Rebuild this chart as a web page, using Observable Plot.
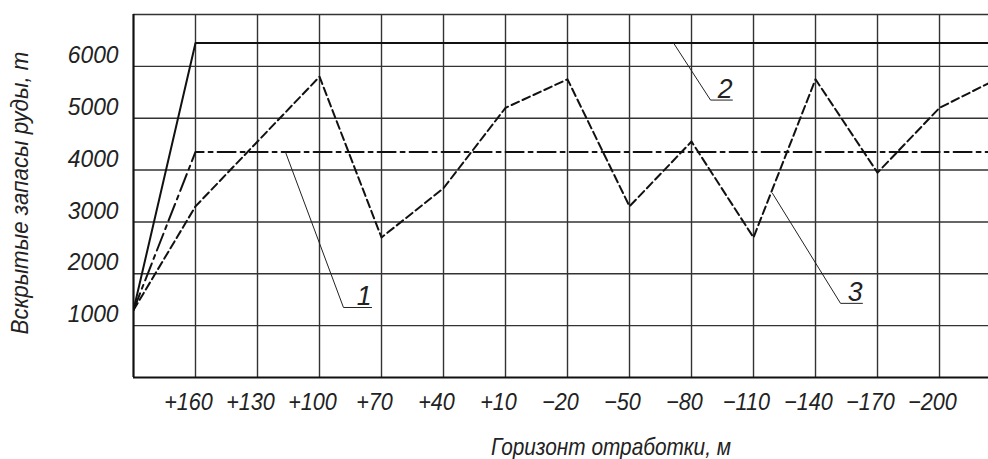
<!DOCTYPE html>
<html>
<head>
<meta charset="utf-8">
<script src="https://cdn.jsdelivr.net/npm/d3@7"></script>
<script src="https://cdn.jsdelivr.net/npm/@observablehq/plot@0.6"></script>
<style>
  html, body { margin: 0; padding: 0; background: #fff; }
  svg { display: block; }
  .gost, .gost text { font-family: "Liberation Sans", Arimo, sans-serif; font-style: italic; }
</style>
</head>
<body>
<div id="chart"></div>
<script>
// Horizon of mining (m) and opened ore reserves (t)
const horizonTicks = [160, 130, 100, 70, 40, 10, -20, -50, -80, -110, -140, -170, -200];
const valueTicks = [1000, 2000, 3000, 4000, 5000, 6000];
const gridValues = [1000, 2000, 3000, 4000, 5000, 6000, 7000];

const series1Horizon = [190, 160, -230];
const series1Value   = [1300, 4350, 4350];

const series2Horizon = [190, 160, -230];
const series2Value   = [1300, 6450, 6450];

const series3Horizon = [190, 160, 100, 70, 40, 10, -20, -50, -80, -110, -140, -170, -200, -230];
const series3Value   = [1300, 3300, 5800, 2700, 3650, 5200, 5750, 3300, 4550, 2700, 5750, 3950, 5200, 5800];

// leader lines for the curve numbers: anchor on curve, elbow, end of underline
const leaderName    = ["1", "2", "3"];
const leaderHorizon = [[116.5, 88.4, 74.8], [-71.3, -89.2, -99.8], [-119.2, -152.1, -162.7]];
const leaderValue   = [[4350, 1350, 1350], [6450, 5350, 5350], [3550, 1430, 1430]];

const yTitle = "Вскрытые запасы руды, т";
const xTitle = "Горизонт отработки, м";

const toRows = (hs, vs) => hs.map((h, i) => ({h, v: vs[i]}));
const s1 = toRows(series1Horizon, series1Value);
const s2 = toRows(series2Horizon, series2Value);
const s3 = toRows(series3Horizon, series3Value);
const leaders = leaderName.flatMap((n, k) => leaderHorizon[k].map((h, i) => ({n, h, v: leaderValue[k][i]})));
const leaderLabels = leaderName.map((n, k) => ({n, h: leaderHorizon[k][2], v: leaderValue[k][2]}));

const fmt = d => d > 0 ? "+" + d : "\u2212" + Math.abs(d);
const FONT = 24;

const chart = Plot.plot({
  width: 988,
  height: 459,
  marginLeft: 133,
  marginRight: 0,
  marginTop: 14,
  marginBottom: 82,
  style: {background: "#fff", overflow: "visible"},
  className: "gost",
  x: {domain: [190, -223.7], type: "linear"},
  y: {domain: [0, 7000]},
  marks: [
    Plot.gridX(horizonTicks, {stroke: "#333", strokeOpacity: 1, strokeWidth: 1.4}),
    Plot.gridY(gridValues, {stroke: "#333", strokeOpacity: 1, strokeWidth: 1.4}),
    Plot.ruleX([190], {stroke: "#111", strokeWidth: 2.2}),
    Plot.ruleY([0], {stroke: "#111", strokeWidth: 2.2}),
    Plot.axisX(horizonTicks, {tickSize: 0, tickPadding: 15, tickFormat: fmt, fontSize: FONT, dx: -7, label: null, fill: "#222"}),
    Plot.axisY(valueTicks, {tickSize: 0, tickPadding: 15, tickFormat: d => String(d), fontSize: FONT, dy: -11, label: null, fill: "#222"}),
    Plot.line(s2, {x: "h", y: "v", stroke: "#111", strokeWidth: 2, clip: true}),
    Plot.line(s1, {x: "h", y: "v", stroke: "#111", strokeWidth: 2, strokeDasharray: "18,5,4,5", clip: true}),
    Plot.line(s3, {x: "h", y: "v", stroke: "#111", strokeWidth: 2, strokeDasharray: "8,4", clip: true}),
    Plot.line(leaders, {x: "h", y: "v", z: "n", stroke: "#222", strokeWidth: 1}),
    Plot.text(leaderLabels, {x: "h", y: "v", text: "n", textAnchor: "end", lineAnchor: "bottom", dy: -2, fontSize: 28, fill: "#222"}),
    Plot.text([yTitle], {frameAnchor: "left", textAnchor: "middle", lineAnchor: "middle", dx: -113, dy: -3, rotate: -90, fontSize: FONT, fill: "#222"}),
    Plot.text([xTitle], {frameAnchor: "bottom", textAnchor: "middle", lineAnchor: "middle", dx: 50, dy: 70, fontSize: FONT, fill: "#222"})
  ]
});
document.getElementById("chart").appendChild(chart);

// condense glyphs horizontally to imitate the narrow drafting font
const yLabelSet = new Set(valueTicks.map(String));
d3.select(chart).selectAll("text").each(function () {
  const t = this.textContent;
  const w = this.getComputedTextLength();
  if (!w) return;
  if (t === yTitle) {
    const tr = this.getAttribute("transform") || "";
    this.setAttribute("transform", tr + ` scale(${283 / w},1)`);
    return;
  }
  let target;
  if (t === xTitle) target = 240;
  else if (yLabelSet.has(t)) target = w * 0.95;
  else if (/^[123]$/.test(t)) target = w * 0.95;
  else target = w * 0.9;
  this.setAttribute("textLength", target);
  this.setAttribute("lengthAdjust", "spacingAndGlyphs");
});
</script>
</body>
</html>
